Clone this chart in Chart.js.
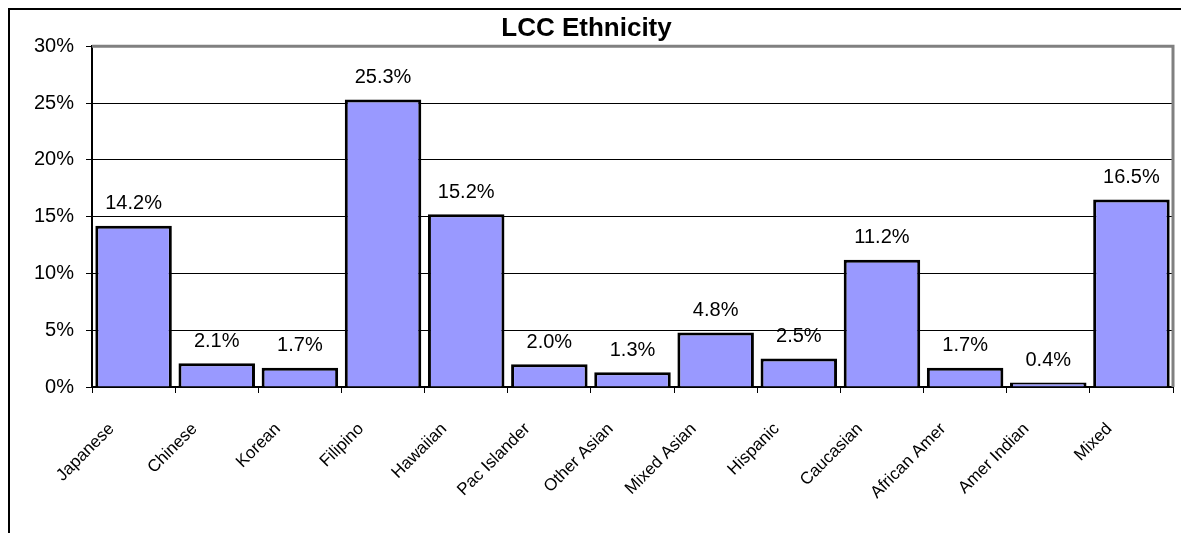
<!DOCTYPE html>
<html>
<head>
<meta charset="utf-8">
<script src="https://cdn.jsdelivr.net/npm/chart.js@4"></script>
<style>
  html, body { margin: 0; padding: 0; background: #fff; }
  #wrap { width: 1181px; height: 533px; position: relative; }
</style>
</head>
<body>
<div id="wrap"><canvas id="chart"></canvas></div>
<script>
// chart data
const categories = ['Japanese', 'Chinese', 'Korean', 'Filipino', 'Hawaiian', 'Pac Islander',
    'Other Asian', 'Mixed Asian', 'Hispanic', 'Caucasian', 'African Amer', 'Amer Indian', 'Mixed'];
const shares = [14.2, 2.1, 1.7, 25.3, 15.2, 2.0, 1.3, 4.8, 2.5, 11.2, 1.7, 0.4, 16.5];
const yTicks = [0, 5, 10, 15, 20, 25, 30];

const FONT = 'Arial, "Liberation Sans", sans-serif';

// outer frame + gray plot border, like the old spreadsheet chart
const framePlugin = {
    id: 'frame',
    beforeDraw(chart) {
        const ctx = chart.ctx;
        ctx.save();
        ctx.strokeStyle = '#000';
        ctx.lineWidth = 2;
        ctx.beginPath();
        ctx.moveTo(9, chart.height);
        ctx.lineTo(9, 9);
        ctx.lineTo(chart.width, 9);
        ctx.stroke();
        ctx.restore();
    },
    afterDatasetsDraw(chart) {
        const {ctx, chartArea: a} = chart;
        ctx.save();
        ctx.strokeStyle = '#808080';
        ctx.lineWidth = 3;
        ctx.beginPath();
        ctx.moveTo(a.left, a.top);
        ctx.lineTo(a.right, a.top);
        ctx.lineTo(a.right, a.bottom);
        ctx.stroke();
        ctx.restore();
    }
};

// value labels above each bar
const valueLabels = {
    id: 'valueLabels',
    afterDatasetsDraw(chart) {
        const ctx = chart.ctx;
        const meta = chart.getDatasetMeta(0);
        ctx.save();
        ctx.font = '20px ' + FONT;
        ctx.fillStyle = '#000';
        ctx.textAlign = 'center';
        ctx.textBaseline = 'middle';
        meta.data.forEach((bar, i) => {
            ctx.fillText(shares[i].toFixed(1) + '%', bar.x, bar.y - 22);
        });
        ctx.restore();
    }
};

new Chart(document.getElementById('chart'), {
    type: 'bar',
    data: {
        labels: categories,
        datasets: [{
            data: shares,
            backgroundColor: '#9999ff',
            borderColor: '#000',
            borderWidth: 3,
            barPercentage: 0.92,
            categoryPercentage: 1
        }]
    },
    options: {
        responsive: true,
        maintainAspectRatio: false,
        animation: false,
        layout: { padding: { left: 0, right: 8, top: 0, bottom: 0 } },
        plugins: {
            legend: { display: false },
            tooltip: { enabled: false },
            title: {
                display: true,
                text: 'LCC Ethnicity',
                color: '#000',
                font: { family: FONT, size: 26, weight: 'bold' },
                padding: { top: 13, bottom: 2 }
            }
        },
        scales: {
            y: {
                min: 0,
                max: 30,
                afterBuildTicks(scale) { scale.ticks = yTicks.map(v => ({value: v})); },
                afterFit(scale) { scale.width = 92; },
                ticks: {
                    color: '#000',
                    padding: 12,
                    font: { family: FONT, size: 20 },
                    callback: v => v + '%'
                },
                grid: { color: '#000', lineWidth: 1, tickLength: 6, tickColor: '#000' },
                border: { color: '#000', width: 2 }
            },
            x: {
                afterFit(scale) { scale.height = 146; },
                ticks: {
                    color: '#000',
                    minRotation: 45,
                    maxRotation: 45,
                    autoSkip: false,
                    padding: 26,
                    labelOffset: -22,
                    font: { family: FONT, size: 17 }
                },
                grid: { display: true, drawOnChartArea: false, tickLength: 6, tickColor: '#000', offset: true },
                border: { color: '#000', width: 2 }
            }
        }
    },
    plugins: [framePlugin, valueLabels]
});
</script>
</body>
</html>
